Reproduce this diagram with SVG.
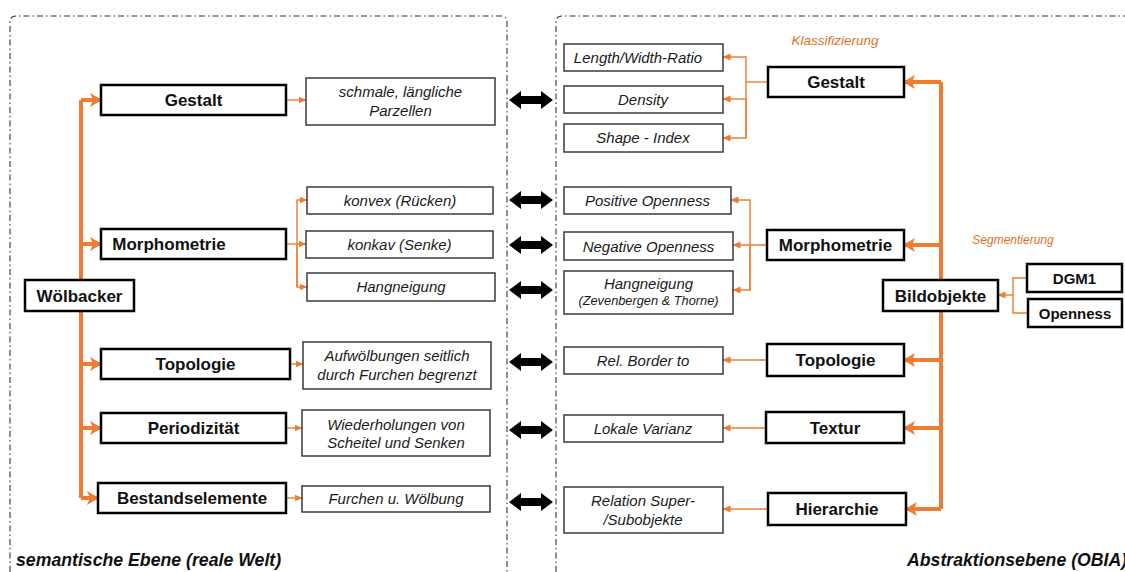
<svg xmlns="http://www.w3.org/2000/svg" xmlns:xlink="http://www.w3.org/1999/xlink" width="1125" height="572" viewBox="0 0 1125 572">
<defs>
<style>
.frame{fill:none;stroke:#333;stroke-width:1.1;stroke-dasharray:6 3 1.5 3}
.bb{fill:#fff;stroke:#000;stroke-width:2.5}
.ib{fill:#fff;stroke:#3a3a3a;stroke-width:1.5}
.bt{font-family:"Liberation Sans",Arial,sans-serif;font-weight:bold;font-size:17px;fill:#111;text-anchor:middle;dominant-baseline:central}
.bs{font-size:15px}
.it{font-family:"Liberation Sans",Arial,sans-serif;font-style:italic;font-size:15px;fill:#1a1a1a;text-anchor:middle;dominant-baseline:central}
.sm{font-size:12.8px}
.thick{fill:none;stroke:#ED7D31;stroke-width:4}
.thin{fill:none;stroke:#ED7D31;stroke-width:1.4}
.lab{font-family:"Liberation Sans",Arial,sans-serif;font-style:italic;fill:#E0701F}
.foot{font-family:"Liberation Sans",Arial,sans-serif;font-style:italic;font-weight:bold;font-size:17.7px;fill:#111}
</style>
<marker id="ah" markerUnits="userSpaceOnUse" markerWidth="12" markerHeight="14" refX="11" refY="7" orient="auto">
<path d="M0,0 L12,7 L0,14 L3,7 Z" fill="#ED7D31"/>
</marker>
<marker id="as" markerUnits="userSpaceOnUse" markerWidth="8" markerHeight="8" refX="7.5" refY="4" orient="auto">
<path d="M0,0.5 L8,4 L0,7.5 Z" fill="#ED7D31"/>
</marker>
<path id="dbl" d="M509,0 L521,-9 L521,-4 L541,-4 L541,-9 L553,0 L541,9 L541,4 L521,4 L521,9 Z" fill="#000"/>
</defs>

<g id="frames">
<path class="frame" d="M10,572 V22 Q10,16 16,16 H501 Q507,16 507,22 V572"/>
<path class="frame" d="M556,572 V22 Q556,16 562,16 H1125"/>
</g>

<g id="connectors">
<path class="thick" d="M81,100 V498"/>
<path class="thick" d="M81,100 H101" marker-end="url(#ah)"/>
<path class="thick" d="M81,244 H101" marker-end="url(#ah)"/>
<path class="thick" d="M81,364 H101" marker-end="url(#ah)"/>
<path class="thick" d="M81,428 H101" marker-end="url(#ah)"/>
<path class="thick" d="M81,498 H98" marker-end="url(#ah)"/>
<path class="thin" d="M286,100 H306" marker-end="url(#as)"/>
<path class="thin" d="M286,244 H306" marker-end="url(#as)"/>
<path class="thin" d="M297,287 V200 H307" marker-end="url(#as)"/>
<path class="thin" d="M297,244 V287 H307" marker-end="url(#as)"/>
<path class="thin" d="M290,364 H303" marker-end="url(#as)"/>
<path class="thin" d="M286,428 H302" marker-end="url(#as)"/>
<path class="thin" d="M286,498 H302" marker-end="url(#as)"/>
<use xlink:href="#dbl" transform="translate(0,100)"/>
<use xlink:href="#dbl" transform="translate(0,200)"/>
<use xlink:href="#dbl" transform="translate(0,245)"/>
<use xlink:href="#dbl" transform="translate(0,290)"/>
<use xlink:href="#dbl" transform="translate(0,362)"/>
<use xlink:href="#dbl" transform="translate(0,430)"/>
<use xlink:href="#dbl" transform="translate(0,502)"/>
<path class="thick" d="M941,82 V509"/>
<path class="thick" d="M941,82 H904" marker-end="url(#ah)"/>
<path class="thick" d="M941,245 H904" marker-end="url(#ah)"/>
<path class="thick" d="M941,360 H904" marker-end="url(#ah)"/>
<path class="thick" d="M941,428 H904" marker-end="url(#ah)"/>
<path class="thick" d="M941,509 H906" marker-end="url(#ah)"/>
<path class="thin" d="M768,82 H746"/>
<path class="thin" d="M746,138 V57 H723" marker-end="url(#as)"/>
<path class="thin" d="M746,99 H723" marker-end="url(#as)"/>
<path class="thin" d="M746,99 V138 H723" marker-end="url(#as)"/>
<path class="thin" d="M767,245 H733" marker-end="url(#as)"/>
<path class="thin" d="M750,290 V200 H731" marker-end="url(#as)"/>
<path class="thin" d="M750,245 V290 H733" marker-end="url(#as)"/>
<path class="thin" d="M767,360 H723" marker-end="url(#as)"/>
<path class="thin" d="M766,428 H723" marker-end="url(#as)"/>
<path class="thin" d="M768,509 H723" marker-end="url(#as)"/>
<path class="thin" d="M1027,278 H1013 V313 H1028"/>
<path class="thin" d="M1013,295 H998" marker-end="url(#as)"/>
</g>

<g id="n-woelbacker"><rect class="bb" x="25" y="280" width="109" height="31"/><text class="bt" x="79.5" y="296">Wölbacker</text></g>
<g id="n-l-gestalt"><rect class="bb" x="101" y="85" width="185" height="30"/><text class="bt" x="193.5" y="100.5">Gestalt</text></g>
<g id="n-l-morph"><rect class="bb" x="101" y="229" width="185" height="30"/><text class="bt" x="169" y="244.5">Morphometrie</text></g>
<g id="n-l-topo"><rect class="bb" x="101" y="349" width="189" height="30"/><text class="bt" x="195.5" y="364.5">Topologie</text></g>
<g id="n-l-period"><rect class="bb" x="101" y="413" width="185" height="30"/><text class="bt" x="193.5" y="428.5">Periodizität</text></g>
<g id="n-l-bestand"><rect class="bb" x="98" y="483" width="188" height="30"/><text class="bt" x="192" y="498.5">Bestandselemente</text></g>

<g id="n-schmal"><rect class="ib" x="306" y="78" width="189" height="47"/><text class="it" x="400.5" y="91.5">schmale, längliche</text><text class="it" x="400.5" y="110">Parzellen</text></g>
<g id="n-konvex"><rect class="ib" x="307" y="187" width="186" height="27"/><text class="it" x="400" y="200.5">konvex (Rücken)</text></g>
<g id="n-konkav"><rect class="ib" x="306" y="231" width="187" height="27"/><text class="it" x="399.5" y="244.5">konkav (Senke)</text></g>
<g id="n-hang-l"><rect class="ib" x="307" y="273" width="188" height="28"/><text class="it" x="401" y="286.5">Hangneigung</text></g>
<g id="n-aufw"><rect class="ib" x="303" y="342" width="188" height="47"/><text class="it" x="397" y="355.5">Aufwölbungen seitlich</text><text class="it" x="397" y="374">durch Furchen begrenzt</text></g>
<g id="n-wieder"><rect class="ib" x="302" y="410" width="188" height="46"/><text class="it" x="396" y="424">Wiederholungen von</text><text class="it" x="396" y="442.5">Scheitel und Senken</text></g>
<g id="n-furchen"><rect class="ib" x="302" y="486" width="188" height="26"/><text class="it" x="396" y="498.5">Furchen u. Wölbung</text></g>

<g id="n-lwr"><rect class="ib" x="564" y="44" width="159" height="27"/><text class="it" x="638" y="57.5">Length/Width-Ratio</text></g>
<g id="n-density"><rect class="ib" x="564" y="86" width="159" height="27"/><text class="it" x="643" y="99.5">Density</text></g>
<g id="n-shape"><rect class="ib" x="564" y="124" width="159" height="28"/><text class="it" x="643" y="137.5">Shape - Index</text></g>
<g id="n-posopen"><rect class="ib" x="564" y="187" width="167" height="27"/><text class="it" x="647.5" y="200.5">Positive Openness</text></g>
<g id="n-negopen"><rect class="ib" x="564" y="232" width="169" height="28"/><text class="it" x="648.5" y="246">Negative Openness</text></g>
<g id="n-hang-r"><rect class="ib" x="564" y="271" width="169" height="43"/><text class="it" x="648.5" y="283.5">Hangneigung</text><text class="it sm" x="648.5" y="300.5">(Zevenbergen &amp; Thorne)</text></g>
<g id="n-relborder"><rect class="ib" x="564" y="347" width="159" height="27"/><text class="it" x="643" y="360.5">Rel. Border to</text></g>
<g id="n-lokal"><rect class="ib" x="564" y="415" width="159" height="27"/><text class="it" x="643" y="428">Lokale Varianz</text></g>
<g id="n-relsuper"><rect class="ib" x="564" y="487" width="159" height="46"/><text class="it" x="643" y="500.5">Relation Super-</text><text class="it" x="643" y="519">/Subobjekte</text></g>

<g id="n-r-gestalt"><rect class="bb" x="768" y="67" width="136" height="30"/><text class="bt" x="836" y="82.5">Gestalt</text></g>
<g id="n-r-morph"><rect class="bb" x="767" y="230" width="137" height="30"/><text class="bt" x="835.5" y="245.5">Morphometrie</text></g>
<g id="n-bild"><rect class="bb" x="883" y="280" width="115" height="31"/><text class="bt" x="940.5" y="296">Bildobjekte</text></g>
<g id="n-dgm1"><rect class="bb" x="1027" y="264" width="95" height="28"/><text class="bt bs" x="1074.5" y="278.5">DGM1</text></g>
<g id="n-openness"><rect class="bb" x="1028" y="299" width="94" height="28"/><text class="bt bs" x="1075" y="313.5">Openness</text></g>
<g id="n-r-topo"><rect class="bb" x="767" y="344" width="137" height="32"/><text class="bt" x="835.5" y="360.5">Topologie</text></g>
<g id="n-textur"><rect class="bb" x="766" y="412" width="138" height="31"/><text class="bt" x="835" y="428">Textur</text></g>
<g id="n-hier"><rect class="bb" x="768" y="493" width="138" height="32"/><text class="bt" x="837" y="509.5">Hierarchie</text></g>

<g id="labels">
<text class="lab" x="835" y="44.5" font-size="13.5" text-anchor="middle">Klassifizierung</text>
<text class="lab" x="1013" y="244" font-size="12" text-anchor="middle">Segmentierung</text>
<text class="foot" x="16" y="566">semantische Ebene (reale Welt)</text>
<text class="foot" x="907" y="566">Abstraktionsebene (OBIA)</text>
</g>
</svg>
